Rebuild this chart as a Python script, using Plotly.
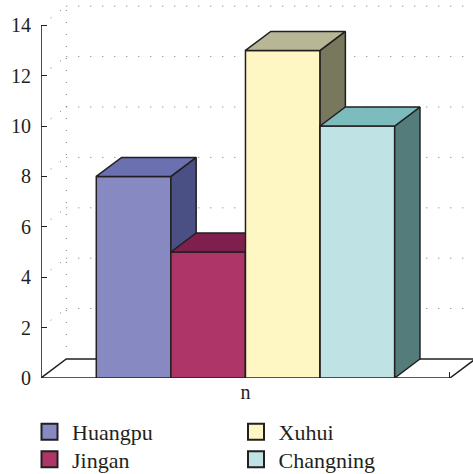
import plotly.graph_objects as go

# Data
categories = ["Huangpu", "Jingan", "Xuhui", "Changning"]
values = [8, 5, 13, 10]
front_colors = ["#8689c2", "#ad3568", "#fef7c3", "#bfe3e5"]
top_colors = ["#6a70b0", "#7f1f4e", "#b7b796", "#7cbcbc"]
side_colors = ["#4a4f84", "#6a1a42", "#77785e", "#537c7b"]
y_ticks = [0, 2, 4, 6, 8, 10, 12, 14]
x_label = "n"

# Chart frame and pseudo-3D depth, in axis units
W, H = 473, 474
X_HALF = 2.741      # half width of the drawn floor front, in bar widths
X_MAX = -X_HALF + (473 - 41) / 74.6
Y_MAX = 378 / 25.2
DEPTH_X = 0.339
DEPTH_Y = 0.754
INK = "#231f20"
FONT = "Liberation Serif"
OUTLINE = 1.5

fig = go.Figure()


def poly(xs, ys, fill, axis_n, name):
    suffix = "" if axis_n == 1 else str(axis_n)
    fig.add_trace(go.Scatter(
        x=xs, y=ys, mode="lines", fill="toself", fillcolor=fill,
        line=dict(color=INK, width=OUTLINE),
        showlegend=False, hoverinfo="skip", name=name,
        xaxis="x" + suffix, yaxis="y" + suffix))


def dotted(xs, ys):
    fig.add_trace(go.Scatter(
        x=xs, y=ys, mode="lines", showlegend=False,
        hoverinfo="skip", line=dict(color="#666666", width=0.9, dash="1px,11px")))


# Floor (unfilled so the end tick of the axis shows through)
left, right = -X_HALF, X_HALF
poly([left, left + DEPTH_X, right + DEPTH_X, right, left],
     [0, DEPTH_Y, DEPTH_Y, 0, 0], "rgba(0,0,0,0)", 1, "floor")

# Dotted walls
dotted([left + DEPTH_X, left + DEPTH_X], [DEPTH_Y, y_ticks[-1] + DEPTH_Y])
for t in y_ticks:
    if t > 0:
        dotted([left + DEPTH_X, right + DEPTH_X], [t + DEPTH_Y, t + DEPTH_Y])
        dotted([left + DEPTH_X * 0.38, left + DEPTH_X],
               [t + DEPTH_Y * 0.38, t + DEPTH_Y])

# Value axis line stops at the last tick
fig.add_trace(go.Scatter(
    x=[left, left], y=[0, y_ticks[-1]], mode="lines", showlegend=False,
    hoverinfo="skip", line=dict(color=INK, width=1.6)))

# Bars: each on its own overlaid axes so that later bars hide earlier side faces
for i, (cat, v) in enumerate(zip(categories, values)):
    n = i + 2
    x0 = i - 2
    x1 = x0 + 1
    fig.add_trace(go.Bar(
        x=[x0 + 0.5], y=[v], width=1, name=cat, showlegend=False,
        marker=dict(color=front_colors[i], line=dict(color=INK, width=OUTLINE)),
        xaxis=f"x{n}", yaxis=f"y{n}"))
    poly([x1, x1 + DEPTH_X, x1 + DEPTH_X, x1, x1],
         [0, DEPTH_Y, v + DEPTH_Y, v, 0], side_colors[i], n, cat + " side")
    poly([x0, x0 + DEPTH_X, x1 + DEPTH_X, x1, x0],
         [v, v + DEPTH_Y, v + DEPTH_Y, v, v], top_colors[i], n, cat + " top")

# Legend entries, one legend box per entry so rows and columns sit freely
legend_ids = ["legend", "legend2", "legend3", "legend4"]
for i, cat in enumerate(categories):
    fig.add_trace(go.Scatter(
        x=[None], y=[None], mode="markers", name=cat, legend=legend_ids[i],
        marker=dict(symbol="square", size=16, color=front_colors[i],
                    line=dict(color=INK, width=2))))

dom_x = [41 / W, 1]
dom_y = [(H - 378) / H, 1]
legend_common = dict(
    font=dict(family=FONT, size=22, color=INK), bgcolor="rgba(0,0,0,0)",
    xanchor="left", yanchor="middle", itemclick=False, itemdoubleclick=False,
    itemwidth=35)
legend_x = [27, 27, 233.5, 233.5]
legend_y = [432, 459.5, 432, 459.5]

layout = dict(
    width=W, height=H, margin=dict(l=0, r=0, t=0, b=0, autoexpand=False),
    autosize=False, paper_bgcolor="white", plot_bgcolor="white", barmode="overlay",
    font=dict(family=FONT, size=20, color=INK),
    xaxis=dict(domain=dom_x, range=[-X_HALF, X_MAX], tickvals=[0, X_HALF],
               ticktext=[x_label, ""], ticks="inside", ticklen=6, tickwidth=1.2,
               tickcolor=INK, showline=False, showgrid=False, zeroline=False,
               layer="below traces", ticklabelstandoff=0, fixedrange=True),
    yaxis=dict(domain=dom_y, range=[0, Y_MAX], tickvals=y_ticks,
               ticks="inside", ticklen=6, tickwidth=1.2, tickcolor=INK,
               showline=False, showgrid=False, zeroline=False,
               ticklabelstandoff=9, fixedrange=True),
)
for lid, lx, ly in zip(legend_ids, legend_x, legend_y):
    layout[lid] = dict(x=lx / W, y=(H - ly) / H, **legend_common)
for n in (2, 3, 4, 5):
    layout[f"xaxis{n}"] = dict(domain=dom_x, range=[-X_HALF, X_MAX], overlaying="x",
                               anchor=f"y{n}", visible=False, fixedrange=True)
    layout[f"yaxis{n}"] = dict(domain=dom_y, range=[0, Y_MAX], overlaying="y",
                               anchor=f"x{n}", visible=False, fixedrange=True)
fig.update_layout(**layout)

fig.write_html("out.html", config=dict(displayModeBar=False),
               post_script="document.body.style.margin='0';")
